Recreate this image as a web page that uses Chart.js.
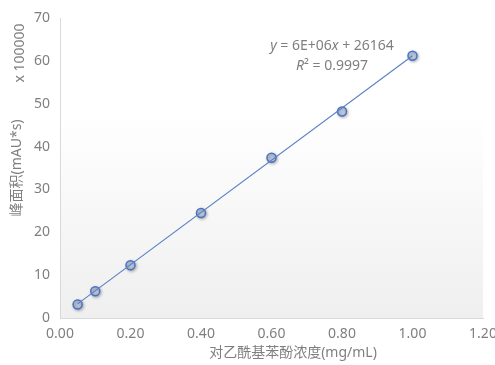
<!DOCTYPE html>
<html>
<head>
<meta charset="utf-8">
<script src="https://cdn.jsdelivr.net/npm/chart.js@4/dist/chart.umd.min.js"></script>
<style>
  html, body { margin: 0; padding: 0; background: #ffffff; }
  #wrap { width: 495px; height: 365px; position: relative; }
</style>
</head>
<body>
<div id="wrap"><canvas id="c" width="495" height="365"></canvas></div>
<script>
// Data (peak area in units of 100000 mAU*s)
const concentration = [0.05, 0.10, 0.20, 0.40, 0.60, 0.80, 1.00];
const peakArea = [3.13, 6.23, 12.3, 24.5, 37.4, 48.2, 61.2];
// Trendline end points
const trendX = [0.05, 1.00];
const trendY = [3.3, 61.2];
// Text
const xTitle = '对乙酰基苯酚浓度(mg/mL)';
const yTitle = '峰面积(mAU*s)';
const yUnits = 'x 100000';
const eqLine1 = ['y', ' = 6E+06', 'x', ' + 26164'];
const eqLine2 = ['R', '² = 0.9997'];

const FONT = '"Noto Sans", "Noto Sans CJK SC", sans-serif';
const TXT = '#7f7f7f';

const bgPlugin = {
  id: 'bgGrad',
  beforeDraw(chart) {
    const { ctx, chartArea: a } = chart;
    const top = a.top + 0.317 * (a.bottom - a.top);
    const g = ctx.createLinearGradient(0, top, 0, a.bottom);
    g.addColorStop(0, 'rgba(255,255,255,1)');
    g.addColorStop(1, 'rgba(239,239,239,1)');
    ctx.save();
    ctx.fillStyle = g;
    ctx.fillRect(a.left, top, a.right - a.left, a.bottom - top);
    ctx.restore();
  }
};

const shadowPlugin = {
  id: 'markerShadow',
  beforeDatasetDraw(chart, args) {
    if (args.index === 0) {
      const ctx = chart.ctx;
      ctx.save();
      ctx.shadowColor = 'rgba(0,0,0,0.35)';
      ctx.shadowBlur = 3;
      ctx.shadowOffsetX = 1;
      ctx.shadowOffsetY = 1;
    }
  },
  afterDatasetDraw(chart, args) {
    if (args.index === 0) chart.ctx.restore();
  }
};

function drawRuns(ctx, runs, italicIdx, cx, cy) {
  const fonts = runs.map((r, i) => (italicIdx.includes(i) ? 'italic ' : '') + '14px ' + FONT);
  let total = 0;
  const widths = runs.map((r, i) => { ctx.font = fonts[i]; const w = ctx.measureText(r).width; total += w; return w; });
  let x = cx - total / 2;
  runs.forEach((r, i) => {
    ctx.font = fonts[i];
    ctx.fillText(r, x, cy);
    x += widths[i];
  });
}

const textPlugin = {
  id: 'texts',
  afterDraw(chart) {
    const { ctx } = chart;
    ctx.save();
    ctx.fillStyle = TXT;
    ctx.textBaseline = 'middle';
    ctx.textAlign = 'left';
    // equation
    drawRuns(ctx, eqLine1, [0, 2], 332, 46);
    drawRuns(ctx, eqLine2, [0], 332, 66);
    // x title
    ctx.textAlign = 'center';
    ctx.font = '14px ' + FONT;
    ctx.fillText(xTitle, 293, 353);
    // y title + units
    ctx.save();
    ctx.translate(17, 168);
    ctx.rotate(-Math.PI / 2);
    ctx.fillText(yTitle, 0, 0);
    ctx.restore();
    ctx.save();
    ctx.translate(20, 53);
    ctx.rotate(-Math.PI / 2);
    ctx.fillText(yUnits, 0, 0);
    ctx.restore();
    ctx.restore();
  }
};

const pts = concentration.map((x, i) => ({ x, y: peakArea[i] }));
const trend = trendX.map((x, i) => ({ x, y: trendY[i] }));

new Chart(document.getElementById('c'), {
  type: 'scatter',
  data: {
    datasets: [
      {
        label: 'data',
        data: pts,
        order: 1,
        pointRadius: 4.5,
        pointHoverRadius: 4.5,
        pointBorderWidth: 1.5,
        borderColor: '#4a72c0',
        backgroundColor: 'rgba(170,192,230,0.55)',
        showLine: false
      },
      {
        label: 'trend',
        data: trend,
        order: 0,
        showLine: true,
        pointRadius: 0,
        borderColor: '#5a7fc2',
        borderWidth: 1.1,
        fill: false
      }
    ]
  },
  plugins: [bgPlugin, shadowPlugin, textPlugin],
  options: {
    responsive: false,
    animation: false,
    events: [],
    layout: { padding: { left: 0, right: 12, top: 18, bottom: 0 } },
    plugins: { legend: { display: false }, tooltip: { enabled: false } },
    scales: {
      x: {
        type: 'linear',
        min: 0, max: 1.2,
        ticks: {
          stepSize: 0.2,
          padding: 8,
          color: TXT,
          font: { family: FONT, size: 14 },
          callback: v => v.toFixed(2),
          maxRotation: 0
        },
        grid: { display: false, drawTicks: false },
        border: { color: '#d9d9d9', width: 1 },
        afterFit(s) { s.height = 47; s.paddingLeft = 0; s.paddingRight = 0; }
      },
      y: {
        type: 'linear',
        min: 0, max: 70,
        ticks: {
          stepSize: 10,
          padding: 10,
          color: TXT,
          font: { family: FONT, size: 14 }
        },
        grid: { display: false, drawTicks: false },
        border: { color: '#d9d9d9', width: 1 },
        afterFit(s) { s.width = 60; s.paddingTop = 0; s.paddingBottom = 0; }
      }
    }
  }
});
</script>
</body>
</html>
